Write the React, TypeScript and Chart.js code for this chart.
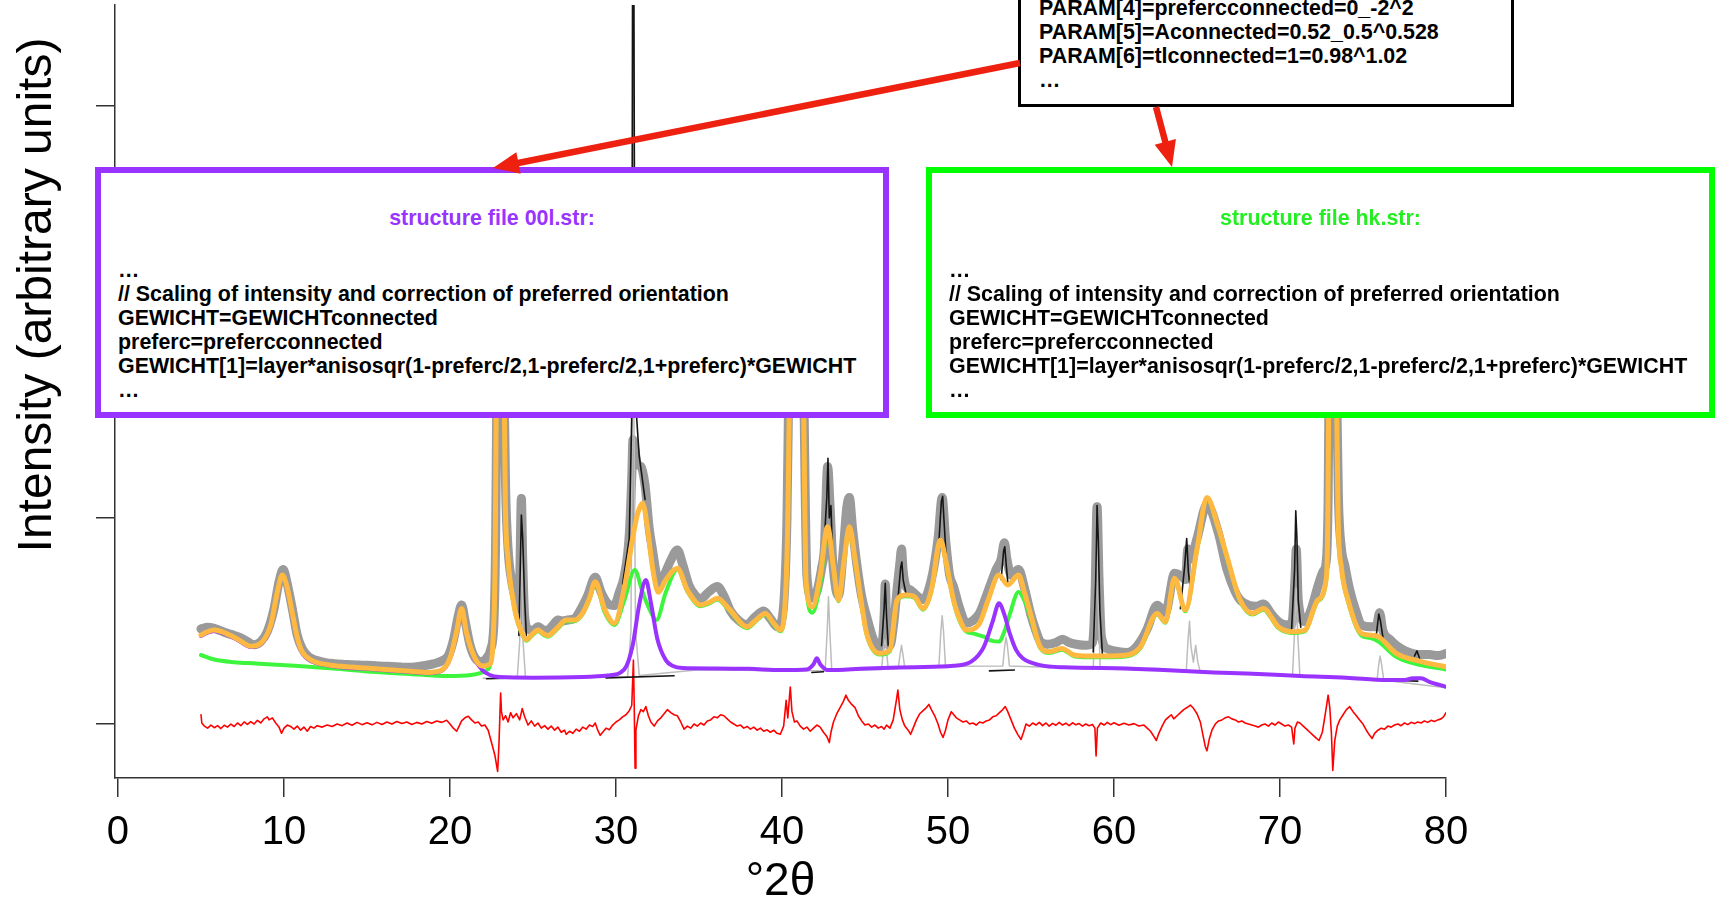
import React, { useEffect, useRef } from 'react';
import { Chart, registerables } from 'chart.js';

Chart.register(...registerables);

type Pt = [number, number];

// ---- axes ----
const X_TICKS = [0, 10, 20, 30, 40, 50, 60, 70, 80];
const Y_TICKS = [0, 1000, 2000, 3000];
const X_MIN = -0.18;
const X_MAX = 80;
const Y_MIN = -262;
const Y_MAX = 3490;
const X_TITLE = '°2θ';
const Y_TITLE = 'Intensity (arbitrary units)';

// ---- measured pattern (°2θ, counts) ----
const observed: Pt[] = [
  [5.0,462],[5.4,470],[5.8,464],[6.2,452],[6.6,440],[7.0,430],[7.4,418],[7.8,400],[8.2,385],[8.6,400],
  [9.0,450],[9.4,560],[9.7,690],[9.95,750],[10.2,680],[10.5,560],[10.8,430],[11.1,365],[11.5,325],[12.0,308],
  [12.5,298],[13.0,293],[13.5,290],[14.0,288],[14.5,286],[15.0,285],[15.5,283],[16.0,281],[16.5,279],[17.0,277],
  [17.5,275],[18.0,278],[18.5,284],[19.0,292],[19.5,306],[19.9,332],[20.2,405],[20.5,525],[20.7,578],[20.9,505],
  [21.2,385],[21.5,322],[21.9,302],[22.2,320],[22.45,362],[22.65,500],[22.75,900],[22.82,1600],[22.95,2400],[23.15,2400],
  [23.27,1600],[23.35,1150],[23.5,850],[23.7,700],[23.9,620],[24.1,560],[24.2,700],[24.3,1095],[24.38,800],[24.5,520],
  [24.7,462],[25.0,455],[25.3,472],[25.6,458],[25.9,455],[26.2,480],[26.5,505],[26.8,500],[27.1,505],[27.5,512],
  [27.9,560],[28.3,625],[28.75,712],[29.1,640],[29.5,585],[29.9,575],[30.2,640],[30.5,720],[30.8,920],[30.95,1200],
  [31.02,1380],[31.1,1350],[31.3,1260],[31.5,1250],[31.75,1160],[32.0,950],[32.2,845],[32.45,720],[32.65,685],[33.0,740],
  [33.3,795],[33.7,845],[34.0,780],[34.4,672],[34.8,622],[35.1,608],[35.6,642],[36.1,668],[36.5,622],[36.9,548],
  [37.4,502],[37.86,482],[38.4,522],[38.9,548],[39.3,512],[39.7,472],[39.9,482],[40.15,640],[40.3,1000],[40.4,1600],
  [40.55,2400],[40.9,2600],[41.2,2400],[41.32,1600],[41.42,1000],[41.5,720],[41.8,612],[42.1,642],[42.4,762],[42.55,850],
  [42.75,1250],[42.9,1050],[43.05,800],[43.25,652],[43.4,622],[43.7,852],[43.9,1050],[44.06,1100],[44.25,950],[44.5,780],
  [44.8,620],[45.1,522],[45.5,412],[45.8,370],[46.0,382],[46.15,520],[46.22,680],[46.32,452],[46.5,382],[46.75,502],
  [46.95,670],[47.1,780],[47.2,850],[47.3,742],[47.5,662],[47.7,652],[48.0,632],[48.5,604],[49.0,702],[49.4,900],
  [49.65,1100],[49.85,900],[50.1,722],[50.33,668],[50.7,562],[51.1,490],[51.5,502],[51.9,538],[52.4,642],[52.9,750],
  [53.2,800],[53.4,880],[53.55,800],[53.8,722],[54.25,750],[54.6,662],[55.0,528],[55.3,452],[55.55,402],[56.0,387],
  [56.5,396],[56.9,412],[57.3,396],[57.8,386],[58.3,382],[58.7,392],[58.85,600],[58.98,1055],[59.1,700],[59.25,420],
  [59.7,362],[60.2,352],[60.8,347],[61.2,362],[61.6,402],[62.0,462],[62.6,576],[63.1,542],[63.65,732],[64.0,722],
  [64.3,702],[64.45,850],[64.6,800],[65.0,900],[65.6,1065],[66.27,932],[66.8,752],[67.3,642],[67.6,602],[68.1,577],
  [68.6,572],[69.0,582],[69.5,532],[69.9,497],[70.3,482],[70.7,482],[70.9,700],[70.98,850],[71.1,600],[71.5,497],
  [71.9,562],[72.28,668],[72.6,742],[72.8,802],[72.9,1100],[72.95,1600],[73.07,2200],[73.28,2200],[73.42,1600],[73.52,1100],
  [73.7,852],[73.9,772],[74.2,652],[74.6,542],[74.9,482],[75.4,472],[75.8,472],[76.0,540],[76.2,452],[76.6,412],
  [77.0,382],[77.5,357],[78.0,342],[78.5,337],[79.0,337],[79.5,332],[80.0,342],
];

// ---- calculated total profile ----
const totalCalc: Pt[] = [
  [5.0,432],[5.4,448],[5.8,456],[6.5,440],[7.2,412],[8.0,378],[8.6,392],[9.2,480],[9.6,640],[9.9,723],
  [10.2,660],[10.5,540],[10.8,420],[11.1,350],[11.6,312],[12.0,298],[13.4,280],[15.3,270],[17.6,256],[18.7,250],
  [19.5,262],[20.0,320],[20.4,450],[20.7,561],[21.0,440],[21.5,320],[21.95,282],[22.41,292],[22.6,420],[22.72,800],
  [22.78,1500],[22.9,2300],[23.15,2300],[23.28,1500],[23.33,1090],[23.5,800],[23.8,602],[24.0,520],[24.3,450],[24.6,410],
  [25.0,440],[25.3,456],[25.6,440],[25.9,430],[26.5,470],[27.0,505],[27.5,505],[28.0,540],[28.4,610],[28.75,691],
  [29.3,560],[29.9,489],[30.5,660],[31.0,900],[31.3,1020],[31.6,1071],[31.9,950],[32.2,760],[32.55,640],[33.0,700],
  [33.7,756],[34.3,650],[35.1,578],[35.6,590],[36.1,610],[36.8,560],[37.9,472],[38.5,510],[39.0,537],[39.5,490],
  [39.9,456],[40.2,602],[40.35,1000],[40.45,1600],[40.6,2300],[40.9,2500],[41.15,2300],[41.3,1600],[41.38,1000],[41.45,690],
  [41.83,569],[42.3,720],[42.75,958],[43.1,760],[43.4,602],[43.75,800],[44.06,958],[44.4,800],[44.8,580],[45.1,440],
  [45.89,343],[46.5,359],[46.93,602],[47.4,626],[47.98,618],[48.5,561],[49.0,650],[49.54,893],[49.9,780],[50.33,602],
  [50.7,510],[51.11,456],[51.9,489],[52.42,602],[53.07,723],[53.6,675],[54.25,723],[54.6,640],[55.0,527],[55.55,375],
  [56.1,351],[56.86,367],[57.6,335],[58.5,330],[59.5,330],[60.8,335],[61.6,375],[62.6,537],[63.1,497],[63.65,707],
  [64.3,553],[65.0,850],[65.6,1100],[66.27,958],[66.8,815],[67.6,602],[68.35,537],[69.0,561],[69.9,472],[70.7,448],
  [71.5,456],[72.28,602],[72.8,715],[72.88,1000],[72.93,1500],[73.05,2100],[73.3,2100],[73.42,1500],[73.5,1000],[73.7,760],
  [74.1,602],[74.9,440],[75.4,432],[75.93,424],[77.0,343],[78.5,303],[80.0,278],
];

// ---- hk component ----
const hkPhase: Pt[] = [
  [5.0,335],[5.8,313],[7.0,300],[8.3,294],[10.65,283],[12.96,270],[15.26,254],[17.57,243],[19.87,233],[21.26,238],
  [22.2,262],[22.41,285],[22.6,412],[22.72,792],[22.78,1492],[22.9,2292],[23.15,2292],[23.28,1492],[23.33,1082],[23.5,794],
  [23.8,596],[24.0,514],[24.3,444],[24.6,404],[25.0,434],[25.3,450],[25.6,434],[25.9,424],[26.5,464],[27.0,499],
  [27.5,499],[28.0,534],[28.4,604],[28.75,685],[29.3,545],[29.9,481],[30.5,600],[31.13,747],[31.6,640],[32.0,560],
  [32.44,505],[33.0,640],[33.7,750],[34.3,644],[35.1,572],[35.6,584],[36.1,604],[36.8,554],[37.9,466],[38.5,504],
  [39.0,531],[39.5,484],[39.9,450],[40.2,596],[40.35,994],[40.45,1594],[40.6,2294],[40.9,2494],[41.15,2294],[41.3,1594],
  [41.38,994],[41.45,684],[41.83,540],[42.3,680],[42.75,952],[43.1,754],[43.4,596],[43.75,794],[44.06,952],[44.4,794],
  [44.8,574],[45.1,434],[45.89,337],[46.5,353],[46.93,596],[47.4,620],[47.98,612],[48.5,555],[49.0,644],[49.54,887],
  [49.9,774],[50.33,596],[50.7,500],[51.11,448],[51.5,440],[51.9,430],[52.16,424],[52.6,405],[53.07,400],[53.4,450],
  [53.7,527],[54.25,641],[54.6,600],[55.0,510],[55.55,369],[56.1,345],[56.86,361],[57.6,329],[58.5,324],[59.5,324],
  [60.8,329],[61.6,369],[62.6,531],[63.1,491],[63.65,701],[64.3,547],[65.0,844],[65.6,1094],[66.27,952],[66.8,809],
  [67.6,596],[68.35,531],[69.0,555],[69.9,466],[70.7,442],[71.5,450],[72.28,596],[72.8,709],[72.88,994],[72.93,1494],
  [73.05,2094],[73.3,2094],[73.42,1494],[73.5,994],[73.7,754],[74.1,594],[74.9,430],[75.4,418],[75.93,400],[77.0,326],
  [78.5,286],[80.0,265],
];

// ---- 00l component ----
const basalPhase: Pt[] = [
  [5.0,428],[5.4,444],[5.8,452],[6.5,436],[7.2,408],[8.0,374],[8.6,388],[9.2,476],[9.6,636],[9.9,719],
  [10.2,656],[10.5,536],[10.8,416],[11.1,346],[11.6,308],[12.0,294],[13.4,276],[15.3,266],[17.6,252],[18.7,246],
  [19.5,258],[20.0,316],[20.4,446],[20.7,557],[21.0,436],[21.5,316],[21.95,262],[22.4,238],[23.0,228],[25.0,225],
  [28.0,228],[29.5,235],[30.5,265],[31.0,380],[31.4,580],[31.8,699],[32.1,590],[32.5,410],[33.0,310],[33.4,283],
  [34.0,272],[36.0,270],[38.0,268],[40.0,262],[41.5,265],[41.9,290],[42.1,319],[42.3,290],[42.75,262],[45.1,270],
  [48.0,276],[50.33,283],[51.4,303],[52.16,375],[52.7,500],[53.07,586],[53.4,530],[53.72,440],[54.1,360],[54.5,319],
  [55.55,286],[57.0,275],[60.78,270],[63.0,262],[66.0,250],[68.0,245],[71.23,233],[74.0,225],[76.45,214],[77.5,214],
  [78.0,222],[78.5,222],[79.0,205],[80.0,181],
];

// ---- sharp reflections, unbroadened trace (null = pen up) ----
const sharpTrace: (Pt | null)[] = [
  [22.2,220],[23.4,222], null,
  [24.15,430],[24.3,1014],[24.38,900],[24.5,600],[24.6,430], null,
  [29.4,224],[33.5,234], null,
  [30.4,680],[30.8,900],[30.95,1500],[31.0,3700],[31.07,3700],[31.15,1600],[31.4,1300],[31.75,1090], null,
  [41.8,250],[42.5,254], null,
  [42.5,820],[42.7,1100],[42.77,1290],[42.85,1000],[42.95,1060],[43.05,800],[43.2,700], null,
  [46.0,380],[46.15,560],[46.22,683],[46.3,520],[46.4,380], null,
  [47.0,620],[47.15,760],[47.22,786],[47.3,700],[47.45,640], null,
  [49.45,880],[49.6,1080],[49.68,1105],[49.75,1000],[49.9,800], null,
  [52.5,258],[54.0,262], null,
  [53.2,700],[53.35,840],[53.42,860],[53.5,780],[53.6,690], null,
  [58.75,350],[58.9,700],[58.98,1060],[59.05,900],[59.15,550],[59.3,340], null,
  [64.0,560],[64.25,760],[64.38,900],[64.48,740],[64.6,650], null,
  [70.7,460],[70.88,750],[70.95,1035],[71.02,900],[71.1,600],[71.25,470], null,
  [75.8,430],[75.95,534],[76.05,500],[76.2,420],[76.3,380], null,
  [77.6,210],[78.3,208], null,
  [78.1,330],[78.25,355],[78.4,320],
];

// ---- impurity phase peaks ----
const impurityPeaks: Pt[] = [
  [22.0,222],[24.05,224],[24.2,400],[24.3,950],[24.4,400],[24.55,224],[30.7,228],[30.9,450],[30.98,1500],[31.03,3700],
  [31.08,1500],[31.18,450],[31.4,236],[35.0,264],[40.0,258],[42.6,259],[42.72,450],[42.8,618],[42.88,450],[43.0,260],
  [46.0,265],[46.12,370],[46.2,409],[46.28,370],[46.4,268],[47.0,270],[47.12,340],[47.2,382],[47.28,340],[47.4,272],
  [49.45,278],[49.57,450],[49.65,526],[49.73,450],[49.85,280],[53.3,282],[53.42,380],[53.5,420],[53.58,380],[53.7,282],
  [58.75,268],[58.88,600],[58.96,1030],[59.04,600],[59.17,268],[64.35,254],[64.47,420],[64.55,499],[64.63,380],[64.78,300],
  [64.92,382],[65.05,300],[65.2,252],[70.75,232],[70.88,450],[70.97,660],[71.06,450],[71.2,232],[75.85,214],[75.95,290],
  [76.03,330],[76.12,290],[76.25,213],[80.0,176],
];

// ---- observed minus calculated ----
const difference: Pt[] = [
  [5.0,45],[5.05,5],[5.2,-10],[5.4,-20],[5.6,-5],[5.8,-18],[6.0,-8],[6.2,-22],[6.4,-6],[6.6,-15],
  [6.8,0],[7.0,-12],[7.2,5],[7.4,-8],[7.6,10],[7.8,-2],[8.0,12],[8.2,0],[8.4,18],[8.6,5],
  [8.8,25],[9.0,35],[9.1,20],[9.3,30],[9.5,5],[9.7,-15],[9.85,-45],[10.0,-20],[10.2,-5],[10.4,-12],
  [10.6,-25],[10.8,-10],[11.0,-30],[11.2,-15],[11.4,-35],[11.6,-12],[11.8,-20],[12.0,-8],[12.3,-15],[12.6,-5],
  [12.9,-12],[13.2,0],[13.5,-8],[13.8,5],[14.1,-6],[14.4,8],[14.7,-3],[15.0,6],[15.3,-4],[15.6,8],
  [15.9,-2],[16.2,10],[16.5,0],[16.8,12],[17.1,2],[17.4,10],[17.7,-2],[18.0,8],[18.3,0],[18.6,12],
  [18.9,4],[19.2,15],[19.5,8],[19.8,18],[20.0,0],[20.2,-20],[20.4,-35],[20.55,-10],[20.7,15],[20.9,30],
  [21.1,38],[21.3,20],[21.5,5],[21.7,10],[21.9,-10],[22.1,-5],[22.3,-30],[22.5,-90],[22.7,-150],[22.87,-230],
  [22.95,-100],[23.05,150],[23.1,60],[23.2,20],[23.35,40],[23.5,10],[23.65,55],[23.8,30],[24.0,50],[24.2,20],
  [24.35,75],[24.5,35],[24.7,-5],[24.9,15],[25.1,-10],[25.3,5],[25.5,-20],[25.7,-8],[25.9,-25],[26.1,-10],
  [26.3,-30],[26.5,-15],[26.7,-40],[26.9,-30],[27.0,-50],[27.2,-35],[27.4,-45],[27.6,-25],[27.8,-35],[28.0,-15],
  [28.2,-25],[28.4,-5],[28.6,-12],[28.75,5],[28.9,-30],[29.05,-55],[29.2,-40],[29.4,-20],[29.6,-28],[29.8,-5],
  [30.0,10],[30.2,20],[30.4,35],[30.6,45],[30.8,65],[30.95,90],[31.05,310],[31.1,80],[31.15,-215],[31.2,-30],
  [31.35,40],[31.5,70],[31.65,60],[31.8,85],[31.95,40],[32.1,10],[32.3,-10],[32.5,15],[32.7,30],[32.9,50],
  [33.1,70],[33.3,55],[33.5,45],[33.7,40],[33.9,10],[34.1,-25],[34.3,-10],[34.5,-20],[34.7,0],[34.9,-10],
  [35.1,5],[35.3,-5],[35.5,15],[35.7,20],[35.9,35],[36.1,30],[36.3,45],[36.5,40],[36.7,25],[36.9,10],
  [37.1,0],[37.3,-10],[37.5,-5],[37.7,-20],[37.9,-12],[38.1,-25],[38.3,-15],[38.5,-30],[38.7,-20],[38.9,-35],
  [39.1,-28],[39.3,-40],[39.5,-30],[39.7,-45],[39.9,-50],[40.1,-10],[40.25,115],[40.35,30],[40.5,180],[40.6,60],
  [40.75,10],[40.9,15],[41.1,-10],[41.3,-25],[41.5,-15],[41.7,-35],[41.9,-20],[42.1,-5],[42.3,-15],[42.5,-40],
  [42.7,-60],[42.85,-90],[42.95,-40],[43.1,10],[43.3,50],[43.5,80],[43.7,110],[43.85,140],[44.0,115],[44.2,95],
  [44.4,80],[44.6,40],[44.8,15],[45.0,-5],[45.2,0],[45.4,-15],[45.6,-5],[45.8,-20],[46.0,-12],[46.15,-25],
  [46.3,-5],[46.5,-20],[46.7,20],[46.9,120],[46.98,165],[47.1,70],[47.25,20],[47.4,-10],[47.6,-30],[47.75,-50],
  [47.9,-20],[48.1,20],[48.3,50],[48.5,65],[48.7,80],[48.85,95],[49.0,70],[49.2,40],[49.4,0],[49.55,-40],
  [49.7,-65],[49.85,-30],[50.0,20],[50.2,60],[50.35,45],[50.5,30],[50.7,20],[50.9,10],[51.1,15],[51.3,0],
  [51.5,5],[51.7,-5],[51.9,10],[52.1,5],[52.3,15],[52.5,20],[52.7,35],[52.9,40],[53.1,55],[53.3,70],
  [53.45,85],[53.6,60],[53.8,20],[54.0,-20],[54.2,-50],[54.4,-75],[54.55,-40],[54.7,0],[54.9,-10],[55.1,5],
  [55.3,-5],[55.5,8],[55.7,-8],[55.9,5],[56.1,-10],[56.3,3],[56.5,-6],[56.7,8],[56.9,-5],[57.1,4],
  [57.3,-8],[57.5,6],[57.7,-4],[57.9,2],[58.1,-10],[58.3,0],[58.5,-8],[58.7,-2],[58.85,-20],[58.92,-155],
  [59.0,-20],[59.2,5],[59.4,-5],[59.6,8],[59.8,-3],[60.0,6],[60.3,-6],[60.6,4],[60.9,-5],[61.2,2],
  [61.5,-10],[61.8,-5],[62.0,-20],[62.2,-35],[62.4,-60],[62.55,-80],[62.7,-45],[62.9,-10],[63.1,20],[63.3,35],
  [63.45,45],[63.6,25],[63.8,40],[64.0,55],[64.2,70],[64.4,80],[64.6,92],[64.8,75],[65.0,50],[65.2,10],
  [65.35,-50],[65.5,-110],[65.6,-130],[65.75,-70],[65.9,-30],[66.1,0],[66.3,15],[66.5,20],[66.7,30],[66.9,35],
  [67.1,25],[67.3,20],[67.5,10],[67.7,15],[67.9,5],[68.1,0],[68.3,-5],[68.5,-10],[68.7,-15],[68.9,-5],
  [69.1,0],[69.3,-10],[69.5,5],[69.7,-5],[69.9,10],[70.1,0],[70.3,-10],[70.5,-5],[70.7,-15],[70.83,-97],
  [70.9,-20],[71.05,10],[71.2,5],[71.4,-10],[71.6,-25],[71.8,-40],[72.0,-55],[72.2,-70],[72.35,-80],[72.55,-40],
  [72.75,60],[72.9,140],[73.0,80],[73.1,-50],[73.18,-225],[73.3,-80],[73.45,-10],[73.6,20],[73.8,45],[74.0,70],
  [74.2,84],[74.4,60],[74.6,40],[74.8,20],[75.0,0],[75.2,-30],[75.4,-55],[75.55,-70],[75.7,-45],[75.9,-30],
  [76.1,-20],[76.3,-25],[76.5,-10],[76.7,-15],[76.9,-5],[77.1,0],[77.3,-8],[77.5,5],[77.7,-3],[77.9,8],
  [78.1,2],[78.3,10],[78.5,5],[78.7,15],[78.9,8],[79.1,18],[79.3,12],[79.5,20],[79.7,25],[79.85,35],[80.0,55],
];

// ---- annotation text ----
const paramLines = [
  'PARAM[4]=prefercconnected=0_-2^2',
  'PARAM[5]=Aconnected=0.52_0.5^0.528',
  'PARAM[6]=tlconnected=1=0.98^1.02',
  '…',
];
const strLines = [
  '…',
  '// Scaling of intensity and correction of preferred orientation',
  'GEWICHT=GEWICHTconnected',
  'preferc=prefercconnected',
  'GEWICHT[1]=layer*anisosqr(1-preferc/2,1-preferc/2,1+preferc)*GEWICHT',
  '…',
];
const basalTitle = 'structure file 00l.str:';
const hkTitle = 'structure file hk.str:';

// ---- styling ----
const SANS = "'Liberation Sans', Arial, Helvetica, sans-serif";
const PURPLE = '#9933FF';
const GREEN_BOX = '#00FF00';
const ARROW_RED = '#EE2010';

function toXY(pts: (Pt | null)[]) {
  const out: { x: number; y: number | null }[] = [];
  let lastX = 0;
  for (const p of pts) {
    if (p) {
      out.push({ x: p[0], y: p[1] });
      lastX = p[0];
    } else {
      out.push({ x: lastX, y: null });
    }
  }
  return out;
}

// vertical axis caption, placed toward the upper part of the axis
const yTitlePlugin = {
  id: 'yTitle',
  afterDraw(chart: any) {
    const ctx = chart.ctx as CanvasRenderingContext2D;
    ctx.save();
    ctx.translate(51, 295);
    ctx.rotate(-Math.PI / 2);
    ctx.font = `48px ${SANS}`;
    ctx.fillStyle = '#000';
    ctx.textAlign = 'center';
    ctx.textBaseline = 'alphabetic';
    ctx.fillText(Y_TITLE, 0, 0);
    ctx.restore();
  },
};

function Arrow({ x1, y1, x2, y2 }: { x1: number; y1: number; x2: number; y2: number }) {
  const dx = x2 - x1;
  const dy = y2 - y1;
  const len = Math.hypot(dx, dy);
  const ux = dx / len;
  const uy = dy / len;
  const headLen = 26;
  const headHalf = 11;
  const bx = x2 - ux * headLen;
  const by = y2 - uy * headLen;
  const px = -uy;
  const py = ux;
  return (
    <g>
      <line x1={x1} y1={y1} x2={bx + ux * 3} y2={by + uy * 3} stroke={ARROW_RED} strokeWidth={6.5} />
      <polygon
        points={`${x2},${y2} ${bx + px * headHalf},${by + py * headHalf} ${bx - px * headHalf},${by - py * headHalf}`}
        fill={ARROW_RED}
      />
    </g>
  );
}

const lineText: React.CSSProperties = {
  position: 'absolute',
  fontFamily: SANS,
  fontWeight: 'bold',
  fontSize: 21.4,
  lineHeight: '24px',
  color: '#000',
  whiteSpace: 'pre',
};

function StructureBox({ left, width, color, title }: { left: number; width: number; color: string; title: string }) {
  return (
    <>
      <div
        style={{
          position: 'absolute',
          left,
          top: 167,
          width,
          height: 251,
          boxSizing: 'border-box',
          border: `6px solid ${color}`,
          background: '#fff',
        }}
      />
      <div style={{ ...lineText, left, width, top: 206, textAlign: 'center', color: color === GREEN_BOX ? '#22EE22' : color }}>
        {title}
      </div>
      <div style={{ ...lineText, left: left + 23, top: 258 }}>
        {strLines.map((l, i) => (
          <div key={i}>{l}</div>
        ))}
      </div>
    </>
  );
}

export default function App() {
  const canvasRef = useRef<HTMLCanvasElement>(null);

  useEffect(() => {
    if (!canvasRef.current) return;
    const common = { pointRadius: 0, borderJoinStyle: 'round' as const, borderCapStyle: 'round' as const, fill: false };
    const chart = new Chart(canvasRef.current, {
      type: 'line',
      data: {
        datasets: [
          { ...common, label: 'total', data: toXY(totalCalc), borderColor: '#FFB940', borderWidth: 5, cubicInterpolationMode: 'monotone', order: 1 },
          { ...common, label: '00l', data: toXY(basalPhase), borderColor: PURPLE, borderWidth: 4, cubicInterpolationMode: 'monotone', order: 2 },
          { ...common, label: 'hk', data: toXY(hkPhase), borderColor: '#3DF53D', borderWidth: 4, cubicInterpolationMode: 'monotone', order: 3 },
          { ...common, label: 'sharp', data: toXY(sharpTrace), borderColor: '#151515', borderWidth: 1.6, tension: 0, spanGaps: false, order: 4 },
          { ...common, label: 'impurity', data: toXY(impurityPeaks), borderColor: '#BDBDBD', borderWidth: 1.5, tension: 0, order: 5 },
          {
            ...common,
            label: 'observed',
            data: toXY(observed),
            borderColor: '#9A9A9A',
            borderWidth: 9,
            cubicInterpolationMode: 'monotone',
            pointRadius: 4.5,
            pointStyle: 'rectRot',
            pointBackgroundColor: '#9A9A9A',
            pointBorderWidth: 0,
            order: 6,
          },
          { ...common, label: 'difference', data: toXY(difference), borderColor: '#FF0000', borderWidth: 1.6, tension: 0, order: 7 },
        ] as any,
      },
      options: {
        animation: false,
        responsive: false,
        devicePixelRatio: 1,
        layout: { padding: { left: 0, right: 269, top: 5, bottom: 0 } },
        plugins: { legend: { display: false }, tooltip: { enabled: false } },
        scales: {
          x: {
            type: 'linear',
            min: X_MIN,
            max: X_MAX,
            afterBuildTicks: (s: any) => {
              s.ticks = X_TICKS.map((v) => ({ value: v }));
            },
            afterFit: (s: any) => {
              s.height = 127;
            },
            grid: { display: true, drawOnChartArea: false, drawTicks: true, tickLength: 19, color: '#333', lineWidth: 1.5 },
            border: { display: true, color: '#333', width: 1.5 },
            ticks: { color: '#000', font: { family: SANS, size: 40 }, padding: 12, maxRotation: 0, autoSkip: false },
            title: { display: true, text: X_TITLE, color: '#000', font: { family: SANS, size: 46, lineHeight: 1 }, padding: 0 },
          },
          y: {
            type: 'linear',
            min: Y_MIN,
            max: Y_MAX,
            afterBuildTicks: (s: any) => {
              s.ticks = Y_TICKS.map((v) => ({ value: v }));
            },
            afterFit: (s: any) => {
              s.width = 115;
            },
            grid: { display: true, drawOnChartArea: false, drawTicks: true, tickLength: 19, color: '#333', lineWidth: 1.5 },
            border: { display: true, color: '#333', width: 1.5 },
            ticks: { display: false },
          },
        },
      } as any,
      plugins: [yTitlePlugin],
    });
    return () => chart.destroy();
  }, []);

  return (
    <div style={{ position: 'absolute', left: 0, top: 0, width: 1715, height: 905, overflow: 'hidden', background: '#fff' }}>
      <canvas ref={canvasRef} width={1715} height={905} style={{ position: 'absolute', left: 0, top: 0, width: 1715, height: 905 }} />

      {/* parameter excerpt */}
      <div
        style={{
          position: 'absolute',
          left: 1018,
          top: -30,
          width: 496,
          height: 137,
          boxSizing: 'border-box',
          border: '3px solid #000',
          background: '#fff',
        }}
      />
      <div style={{ ...lineText, left: 1039, top: -4 }}>
        {paramLines.map((l, i) => (
          <div key={i}>{l}</div>
        ))}
      </div>

      <StructureBox left={95} width={794} color={PURPLE} title={basalTitle} />
      <StructureBox left={926} width={789} color={GREEN_BOX} title={hkTitle} />

      <svg width={1715} height={905} style={{ position: 'absolute', left: 0, top: 0, pointerEvents: 'none' }}>
        <Arrow x1={1020} y1={63} x2={493} y2={168} />
        <Arrow x1={1156} y1={107} x2={1172} y2={167} />
      </svg>
    </div>
  );
}
